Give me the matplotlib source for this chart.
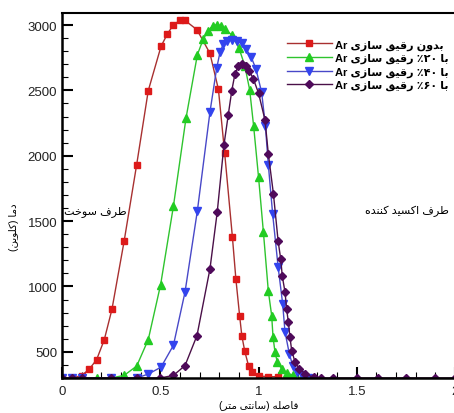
import re
import numpy as np
import matplotlib
matplotlib.use('Agg')
import matplotlib.pyplot as plt
from matplotlib.ticker import MultipleLocator

plt.rcParams['font.family'] = ['Liberation Sans', 'DejaVu Sans']

# distance (cm) and temperature (K)
x_red = [0, 0.05, 0.10, 0.139, 0.176, 0.215, 0.254, 0.316, 0.38, 0.439, 0.504, 0.536,
         0.567, 0.60, 0.626, 0.687, 0.753, 0.796, 0.828, 0.867, 0.885, 0.904, 0.915,
         0.93, 0.95, 0.965, 1.0, 1.05, 1.1]
t_red = [300, 300, 319, 368, 440, 592, 824, 1345, 1932, 2498, 2837, 2931,
         3002, 3035, 3035, 2964, 2783, 2508, 2018, 1382, 1055, 775, 625,
         505, 390, 345, 315, 310, 310]

x_green = [0, 0.05, 0.10, 0.176, 0.25, 0.316, 0.38, 0.439, 0.502, 0.567, 0.631, 0.689,
           0.719, 0.745, 0.767, 0.787, 0.808, 0.83, 0.864, 0.901, 0.93, 0.955, 0.975,
           1.0, 1.025, 1.05, 1.067, 1.074, 1.084, 1.096, 1.118, 1.143, 1.177, 1.22]
t_green = [300, 300, 300, 300, 300, 320, 391, 594, 1015, 1614, 2287, 2773,
           2893, 2957, 2995, 3002, 2995, 2969, 2924, 2822, 2690, 2505, 2230,
           1840, 1415, 965, 778, 612, 498, 421, 370, 340, 320, 300]

x_blue = [0, 0.05, 0.10, 0.25, 0.38, 0.439, 0.504, 0.567, 0.626, 0.689, 0.753, 0.787,
          0.804, 0.821, 0.841, 0.864, 0.889, 0.914, 0.936, 0.962, 0.987, 1.016, 1.035,
          1.05, 1.072, 1.10, 1.123, 1.135, 1.157, 1.174, 1.194, 1.22, 1.25]
t_blue = [300, 300, 300, 300, 300, 330, 383, 550, 957, 1580, 2335, 2669,
          2791, 2855, 2875, 2888, 2875, 2860, 2817, 2758, 2664, 2485, 2230,
          1932, 1555, 1148, 867, 651, 485, 395, 345, 320, 300]

x_purple = [0, 0.05, 0.10, 0.25, 0.38, 0.50, 0.567, 0.626, 0.687, 0.753, 0.79, 0.824,
            0.846, 0.864, 0.880, 0.897, 0.914, 0.936, 0.953, 0.974, 1.0, 1.033, 1.05,
            1.076, 1.10, 1.113, 1.121, 1.135, 1.143, 1.152, 1.16, 1.169, 1.186, 1.208,
            1.237, 1.28, 1.32, 1.38, 1.5, 1.61, 1.75, 1.9, 2.0]
t_purple = [300, 300, 300, 300, 300, 300, 320, 395, 625, 1135, 1570, 2080,
            2312, 2498, 2625, 2684, 2702, 2684, 2651, 2587, 2480, 2274, 2014,
            1708, 1345, 1211, 1079, 957, 829, 727, 612, 510, 421, 370,
            332, 305, 300, 300, 300, 300, 300, 300, 300]

labels = ['بدون رقیق سازی Ar', 'با ۲۰٪ رقیق سازی Ar', 'با ۴۰٪ رقیق سازی Ar', 'با ۶۰٪ رقیق سازی Ar']
xlabel = 'فاصله (سانتی متر)'
ylabel = 'دما (کلوین)'
fuel_side = 'طرف سوخت'
oxid_side = 'طرف اکسید کننده'

# matplotlib does no arabic shaping/bidi -> pick presentation forms by hand
# (isolated, final, initial, medial); None = letter does not join to the next one
FORMS = {
    'ا': ('\uFE8D', '\uFE8E', None, None),
    'ب': ('\uFE8F', '\uFE90', '\uFE91', '\uFE92'),
    'ت': ('\uFE95', '\uFE96', '\uFE97', '\uFE98'),
    'خ': ('\uFEA5', '\uFEA6', '\uFEA7', '\uFEA8'),
    'د': ('\uFEA9', '\uFEAA', None, None),
    'ر': ('\uFEAD', '\uFEAE', None, None),
    'ز': ('\uFEAF', '\uFEB0', None, None),
    'س': ('\uFEB1', '\uFEB2', '\uFEB3', '\uFEB4'),
    'ص': ('\uFEB9', '\uFEBA', '\uFEBB', '\uFEBC'),
    'ط': ('\uFEC1', '\uFEC2', '\uFEC3', '\uFEC4'),
    'ف': ('\uFED1', '\uFED2', '\uFED3', '\uFED4'),
    'ق': ('\uFED5', '\uFED6', '\uFED7', '\uFED8'),
    'ک': ('\uFB8E', '\uFB8F', '\uFB90', '\uFB91'),
    'ل': ('\uFEDD', '\uFEDE', '\uFEDF', '\uFEE0'),
    'م': ('\uFEE1', '\uFEE2', '\uFEE3', '\uFEE4'),
    'ن': ('\uFEE5', '\uFEE6', '\uFEE7', '\uFEE8'),
    'ه': ('\uFEE9', '\uFEEA', '\uFEEB', '\uFEEC'),
    'و': ('\uFEED', '\uFEEE', None, None),
    'ی': ('\uFBFC', '\uFBFD', '\uFBFE', '\uFBFF'),
}


def shape_run(m):
    w = m.group(0)
    out = []
    for i, c in enumerate(w):
        iso, fin, ini, med = FORMS[c]
        jp = i > 0 and FORMS[w[i-1]][2] is not None
        jn = i < len(w) - 1 and ini is not None
        if jp and jn:
            out.append(med)
        elif jp:
            out.append(fin)
        elif jn:
            out.append(ini)
        else:
            out.append(iso)
    return ''.join(out)


def fa(s):
    s = re.sub('[' + ''.join(FORMS) + ']+', shape_run, s)
    s = s[::-1]  # right-to-left visual order
    s = re.sub('[A-Za-z0-9\u06F0-\u06F9]+', lambda m: m.group(0)[::-1], s)
    return s.translate(str.maketrans('()', ')('))


fig = plt.figure(figsize=(4.54, 4.14), dpi=100)
ax = fig.add_axes([62/454, 35/414, 393/454, 365/414])

ax.plot(x_red, t_red, '-', color='#a83030', lw=1, marker='s', ms=5,
        mfc='#dd1a1a', mec='#dd1a1a', label=fa(labels[0]))
ax.plot(x_green, t_green, '-', color='#2ec42e', lw=1, marker='^', ms=5.5,
        mfc='#22cc22', mec='#22cc22', label=fa(labels[1]))
ax.plot(x_blue, t_blue, '-', color='#4848c8', lw=1, marker='v', ms=5.5,
        mfc='#3344ee', mec='#3344ee', label=fa(labels[2]))
ax.plot(x_purple, t_purple, '-', color='#4a1048', lw=1, marker='D', ms=4.5,
        mfc='#4f0a5a', mec='#4f0a5a', label=fa(labels[3]))

ax.set_xlim(0, 2)
ax.set_ylim(300, 3092)
ax.set_yticks([500, 1000, 1500, 2000, 2500, 3000])
ax.set_xticks([0, 0.5, 1, 1.5, 2])
ax.set_xticklabels(['0', '0.5', '1', '1.5', '2'])
ax.xaxis.set_minor_locator(MultipleLocator(0.1))
ax.yaxis.set_minor_locator(MultipleLocator(100))
ax.tick_params(which='both', direction='in', top=False, right=False,
               labelsize=9.5, colors='black', labelcolor='#222222')
ax.tick_params(which='major', length=8, width=1.5)
ax.tick_params(which='minor', length=4, width=0.8)
ax.tick_params(axis='x', pad=5)
for side in ['left', 'bottom']:
    ax.spines[side].set_linewidth(1.8)
ax.spines['top'].set_linewidth(1.5)

ax.set_xlabel(fa(xlabel), fontsize=7.5, labelpad=2)
ax.set_ylabel(fa(ylabel), fontsize=7.5)
ax.yaxis.set_label_coords(-0.11, 0.416)

ax.text(0.33, 1580, fa(fuel_side), fontsize=8, ha='right', va='center')
ax.text(1.97, 1580, fa(oxid_side), fontsize=8, ha='right', va='center')

leg = ax.legend(loc='upper right', bbox_to_anchor=(0.995, 0.94), frameon=False,
                prop={'size': 8, 'weight': 'bold'}, handlelength=4.0,
                handletextpad=0.3, labelspacing=0.3, borderaxespad=0)

fig.savefig('out.png', dpi=100)
